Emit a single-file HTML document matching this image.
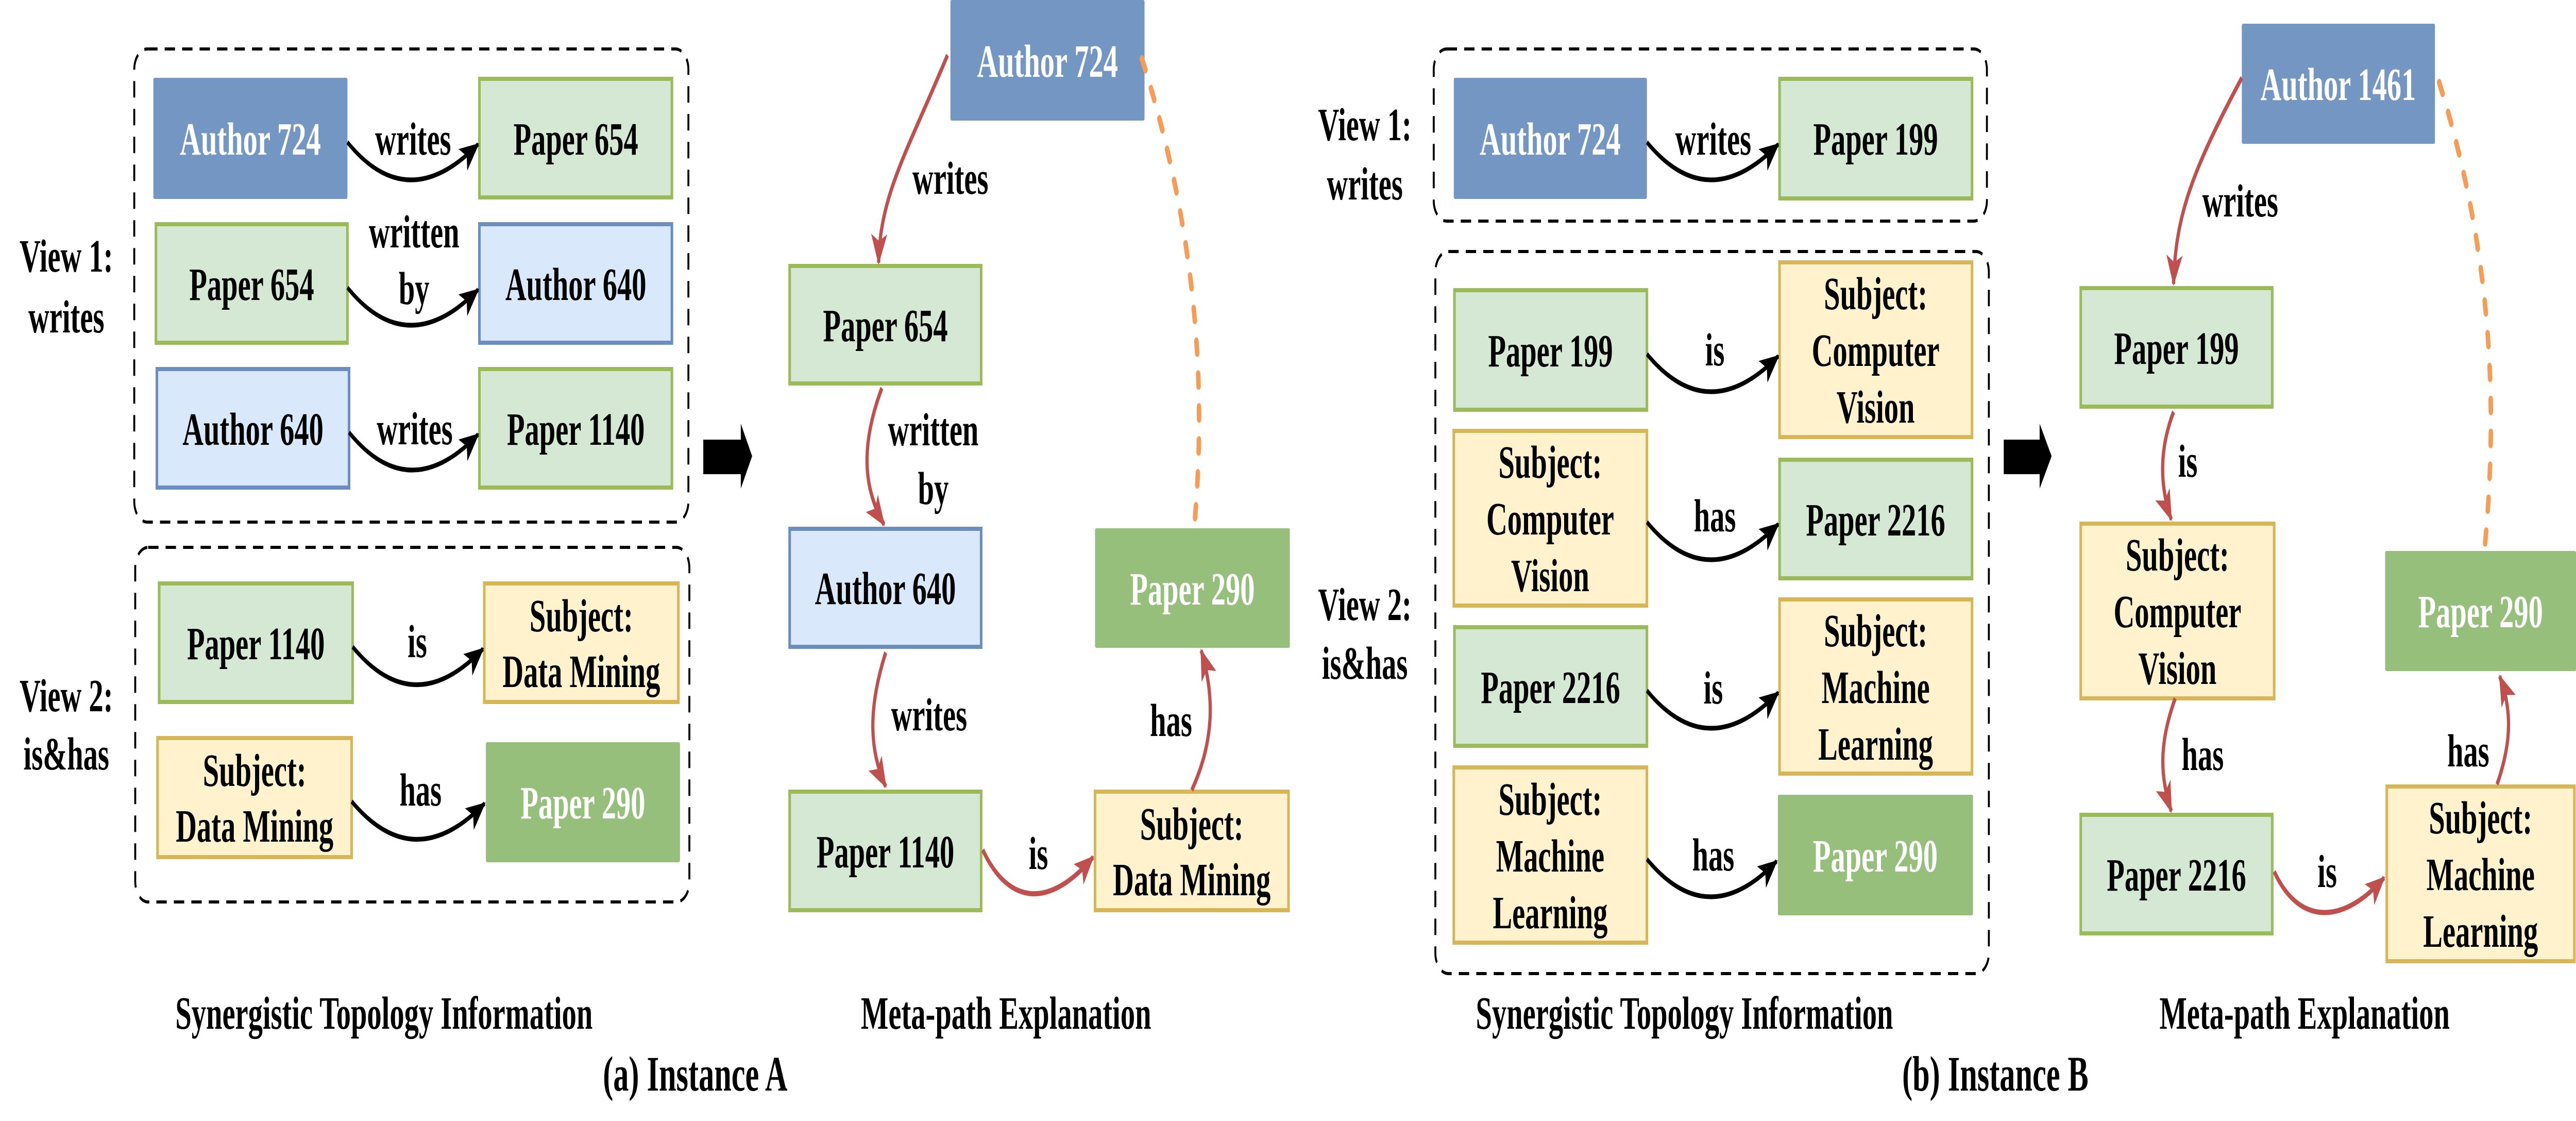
<!DOCTYPE html>
<html><head><meta charset="utf-8"><style>
html,body{margin:0;padding:0;background:#fff;width:100%;height:100%;overflow:hidden}
svg{display:block;width:100vw;height:100vh}
text{font-family:"Liberation Serif",serif;font-weight:bold;font-size:90px;text-anchor:middle}
.w{fill:#fff}
</style></head><body>
<svg viewBox="0 0 7963 2175" preserveAspectRatio="none" xmlns="http://www.w3.org/2000/svg">
<defs>
<marker id="mb" viewBox="0 0 60 50" refX="56" refY="25" markerWidth="60" markerHeight="50" orient="auto" markerUnits="userSpaceOnUse"><path d="M0,0 L60,25 L0,50 L14,25 z" fill="#000"/></marker>
<marker id="mr" viewBox="0 0 60 50" refX="56" refY="25" markerWidth="60" markerHeight="50" orient="auto" markerUnits="userSpaceOnUse"><path d="M0,0 L60,25 L0,50 L14,25 z" fill="#c0504d"/></marker>
</defs>

<g fill="none" stroke="#000" stroke-width="6" stroke-dasharray="32 22">
<rect x="415" y="95" width="1713" height="918" rx="40"/>
<rect x="418" y="1062" width="1713" height="688" rx="40"/>
<rect x="4432" y="95" width="1710" height="334" rx="40"/>
<rect x="4437" y="488" width="1711" height="1401" rx="40"/>
</g>

<g fill="#7496c2">
<rect x="474" y="151" width="600" height="235" rx="4"/>
<rect x="2938" y="0" width="600" height="234" rx="4"/>
<rect x="4494" y="151" width="597" height="235" rx="4"/>
<rect x="6930" y="46" width="597" height="233" rx="4"/>
</g>
<g fill="#95bf7b">
<rect x="1502" y="1440" width="600" height="233" rx="4"/>
<rect x="3385" y="1025" width="602" height="232" rx="4"/>
<rect x="5496" y="1542" width="603" height="234" rx="4"/>
<rect x="7373" y="1069" width="590" height="233" rx="4"/>
</g>
<g fill="#d5e8d4" stroke="#9bbb59" stroke-width="8">
<rect x="1482" y="153" width="595" height="230"/>
<rect x="482" y="435" width="592" height="230"/>
<rect x="1482" y="716" width="595" height="230"/>
<rect x="492" y="1132" width="598" height="230"/>
<rect x="2441" y="516" width="592" height="228"/>
<rect x="2441" y="1536" width="592" height="230"/>
<rect x="5501" y="153" width="595" height="232"/>
<rect x="4496" y="563" width="595" height="232"/>
<rect x="5501" y="892" width="595" height="230"/>
<rect x="4496" y="1217" width="595" height="230"/>
<rect x="6432" y="559" width="592" height="230"/>
<rect x="6432" y="1581" width="592" height="230"/>
</g>
<g fill="#dae8fc" stroke="#6c8ebf" stroke-width="8">
<rect x="1482" y="435" width="595" height="230"/>
<rect x="485" y="716" width="594" height="230"/>
<rect x="2441" y="1026" width="592" height="229"/>
</g>
<g fill="#fff2cc" stroke="#d6b656" stroke-width="8">
<rect x="1497" y="1132" width="600" height="230"/>
<rect x="487" y="1432" width="600" height="231"/>
<rect x="3385" y="1536" width="598" height="230"/>
<rect x="5501" y="509" width="595" height="339"/>
<rect x="4494" y="836" width="597" height="339"/>
<rect x="5501" y="1163" width="595" height="338"/>
<rect x="4494" y="1489" width="597" height="340"/>
<rect x="6432" y="1016" width="598" height="339"/>
<rect x="7378" y="1526" width="580" height="339"/>
</g>

<text class="w" x="774" y="300">Author 724</text>
<text x="1780" y="300">Paper 654</text>
<text x="778" y="582">Paper 654</text>
<text x="1780" y="582">Author 640</text>
<text x="782" y="863">Author 640</text>
<text x="1780" y="863">Paper 1140</text>
<text x="791" y="1279">Paper 1140</text>
<text x="1797" y="1225">Subject:</text>
<text x="1797" y="1333">Data Mining</text>
<text x="787" y="1525">Subject:</text>
<text x="787" y="1633">Data Mining</text>
<text class="w" x="1802" y="1588">Paper 290</text>

<text class="w" x="3238" y="149">Author 724</text>
<text x="2737" y="662">Paper 654</text>
<text x="2737" y="1172">Author 640</text>
<text x="2737" y="1683">Paper 1140</text>
<text class="w" x="3686" y="1173">Paper 290</text>
<text x="3684" y="1629">Subject:</text>
<text x="3684" y="1737">Data Mining</text>

<text class="w" x="4792" y="300">Author 724</text>
<text x="5798" y="300">Paper 199</text>
<text x="4793" y="711">Paper 199</text>
<text x="5798" y="600">Subject:</text>
<text x="5798" y="710">Computer</text>
<text x="5798" y="820">Vision</text>
<text x="4792" y="927">Subject:</text>
<text x="4792" y="1037">Computer</text>
<text x="4792" y="1147">Vision</text>
<text x="5798" y="1039">Paper 2216</text>
<text x="4793" y="1364">Paper 2216</text>
<text x="5798" y="1254">Subject:</text>
<text x="5798" y="1364">Machine</text>
<text x="5798" y="1474">Learning</text>
<text x="4792" y="1581">Subject:</text>
<text x="4792" y="1691">Machine</text>
<text x="4792" y="1801">Learning</text>
<text class="w" x="5797" y="1691">Paper 290</text>

<text class="w" x="7228" y="194">Author 1461</text>
<text x="6728" y="706">Paper 199</text>
<text x="6731" y="1107">Subject:</text>
<text x="6731" y="1217">Computer</text>
<text x="6731" y="1327">Vision</text>
<text x="6728" y="1728">Paper 2216</text>
<text class="w" x="7668" y="1217">Paper 290</text>
<text x="7668" y="1617">Subject:</text>
<text x="7668" y="1727">Machine</text>
<text x="7668" y="1837">Learning</text>

<text x="205" y="527">View 1:</text>
<text x="205" y="645">writes</text>
<text x="205" y="1380">View 2:</text>
<text x="205" y="1493">is&amp;has</text>
<text x="4219" y="272">View 1:</text>
<text x="4219" y="387">writes</text>
<text x="4219" y="1203">View 2:</text>
<text x="4219" y="1317">is&amp;has</text>

<g fill="none" stroke="#000" stroke-width="9" marker-end="url(#mb)">
<path d="M1074,276 Q1260,420 1478,280"/>
<path d="M1074,558 Q1260,702 1478,562"/>
<path d="M1079,839 Q1265,983 1478,843"/>
<path d="M1090,1255 Q1280,1400 1493,1259"/>
<path d="M1087,1555 Q1280,1700 1498,1559"/>
<path d="M5091,276 Q5280,420 5497,280"/>
<path d="M5091,687 Q5280,831 5497,691"/>
<path d="M5091,1013 Q5280,1157 5497,1017"/>
<path d="M5091,1340 Q5280,1484 5497,1344"/>
<path d="M5091,1667 Q5280,1811 5492,1671"/>
</g>

<text x="1277" y="300">writes</text>
<text x="1280" y="480">written</text>
<text x="1280" y="590">by</text>
<text x="1282" y="862">writes</text>
<text x="1290" y="1275">is</text>
<text x="1300" y="1563">has</text>
<text x="5296" y="300">writes</text>
<text x="5301" y="709">is</text>
<text x="5301" y="1031">has</text>
<text x="5296" y="1365">is</text>
<text x="5296" y="1689">has</text>

<text x="2938" y="376">writes</text>
<text x="2885" y="864">written</text>
<text x="2885" y="978">by</text>
<text x="2872" y="1417">writes</text>
<text x="3620" y="1428">has</text>
<text x="3210" y="1686">is</text>
<text x="6925" y="420">writes</text>
<text x="6763" y="925">is</text>
<text x="6809" y="1494">has</text>
<text x="7630" y="1487">has</text>
<text x="7194" y="1721">is</text>

<polygon points="2174,853 2290,853 2290,822 2325,885 2290,948 2290,920 2174,920" fill="#000"/>
<polygon points="6194,853 6305,853 6305,822 6342,885 6305,948 6305,920 6194,920" fill="#000"/>

<g fill="none" stroke="#c0504d" stroke-width="10" marker-end="url(#mr)">
<path d="M2929,107 C2800,300 2720,380 2716,510"/>
<path d="M2726,753 C2650,880 2680,960 2733,1018"/>
<path d="M2738,1266 C2680,1380 2690,1460 2738,1526"/>
<path d="M3038,1649 C3120,1760 3250,1760 3379,1663"/>
<path d="M3684,1533 C3760,1430 3750,1340 3713,1262"/>
<path d="M6930,151 C6760,350 6725,430 6719,551"/>
<path d="M6719,799 C6670,880 6680,950 6712,1008"/>
<path d="M6724,1355 C6670,1450 6680,1510 6712,1574"/>
<path d="M7030,1691 C7110,1800 7250,1790 7370,1703"/>
<path d="M7719,1522 C7770,1430 7760,1370 7727,1312"/>
</g>
<g fill="none" stroke="#f59d56" stroke-width="14" stroke-linecap="round" stroke-dasharray="24 40">
<path d="M3530,114 C3700,450 3730,750 3692,1020"/>
<path d="M7540,160 C7710,500 7720,800 7681,1062"/>
</g>

<text x="1187" y="1996">Synergistic Topology Information</text>
<text x="3110" y="1996">Meta-path Explanation</text>
<text x="2149" y="2116" style="font-size:96px">(a) Instance A</text>
<text x="5207" y="1996">Synergistic Topology Information</text>
<text x="7124" y="1996">Meta-path Explanation</text>
<text x="6168" y="2116" style="font-size:96px">(b) Instance B</text>
</svg>
</body></html>
